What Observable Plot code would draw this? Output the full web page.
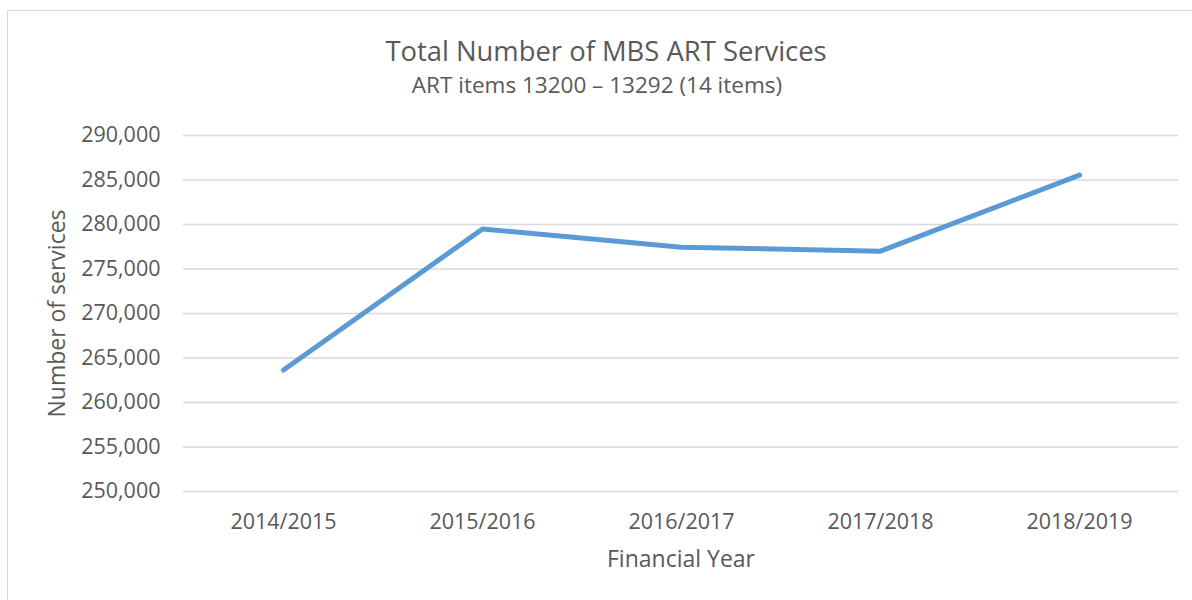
<!DOCTYPE html>
<html>
<head>
<meta charset="utf-8">
<script src="https://cdn.jsdelivr.net/npm/d3@7"></script>
<script src="https://cdn.jsdelivr.net/npm/@observablehq/plot@0.6"></script>
<style>
  html, body { margin: 0; padding: 0; background: #fff; overflow: hidden; }
  #wrap { position: relative; width: 1192px; height: 600px; font-family: "Open Sans", sans-serif; color: #595959; }
  #frame { position: absolute; left: 7px; top: 10px; width: 1220px; height: 620px; border: 1px solid #d9d9d9; box-sizing: border-box; }
  .ttl { position: absolute; left: 0; width: 1212px; text-align: center; line-height: 1; white-space: nowrap; }
  #title { top: 37px; font-size: 27.4px; }
  #subtitle { top: 74px; left: -9px; font-size: 22.5px; }
  #chart { position: absolute; left: 0; top: 0; }
</style>
</head>
<body>
<div id="wrap">
  <div id="frame"></div>
  <div id="title" class="ttl">Total Number of MBS ART Services</div>
  <div id="subtitle" class="ttl">ART items 13200 – 13292 (14 items)</div>
  <div id="chart"></div>
</div>
<script>
const years = ["2014/2015", "2015/2016", "2016/2017", "2017/2018", "2018/2019"];
const services = [263650, 279500, 277450, 277000, 285550];
const yTicks = [250000, 255000, 260000, 265000, 270000, 275000, 280000, 285000, 290000];
const xTitle = "Financial Year";
const yTitle = "Number of services";

const data = years.map((year, i) => ({year, services: services[i]}));

const chart = Plot.plot({
  width: 1192,
  height: 600,
  marginTop: 135,
  marginBottom: 109,
  marginLeft: 183,
  marginRight: 14,
  style: {fontFamily: "Open Sans, sans-serif", fontSize: "21.5px", color: "#595959", background: "transparent", overflow: "visible"},
  x: {type: "point", domain: years, padding: 0.5, label: null},
  y: {domain: [250000, 290000], label: null},
  marks: [
    Plot.ruleY(yTicks, {stroke: "#d9d9d9", strokeWidth: 1.4, strokeOpacity: 1}),
    Plot.axisY(yTicks, {tickSize: 0, tickPadding: 23, tickFormat: d3.format(","), fontSize: 21.5, label: null, fill: "#595959"}),
    Plot.axisX({tickSize: 0, tickPadding: 22, fontSize: 21.5, label: null, fill: "#595959"}),
    Plot.lineY(data, {x: "year", y: "services", stroke: "#5b9bd5", strokeWidth: 5, strokeLinecap: "round", strokeLinejoin: "round"}),
    Plot.text([xTitle], {frameAnchor: "bottom", textAnchor: "middle", lineAnchor: "middle", dy: 68.6, fontSize: 23, fill: "#595959"}),
    Plot.text([yTitle], {frameAnchor: "left", textAnchor: "middle", lineAnchor: "middle", rotate: -90, dx: -126, fontSize: 23, fill: "#595959"})
  ]
});
document.getElementById("chart").appendChild(chart);
</script>
</body>
</html>
